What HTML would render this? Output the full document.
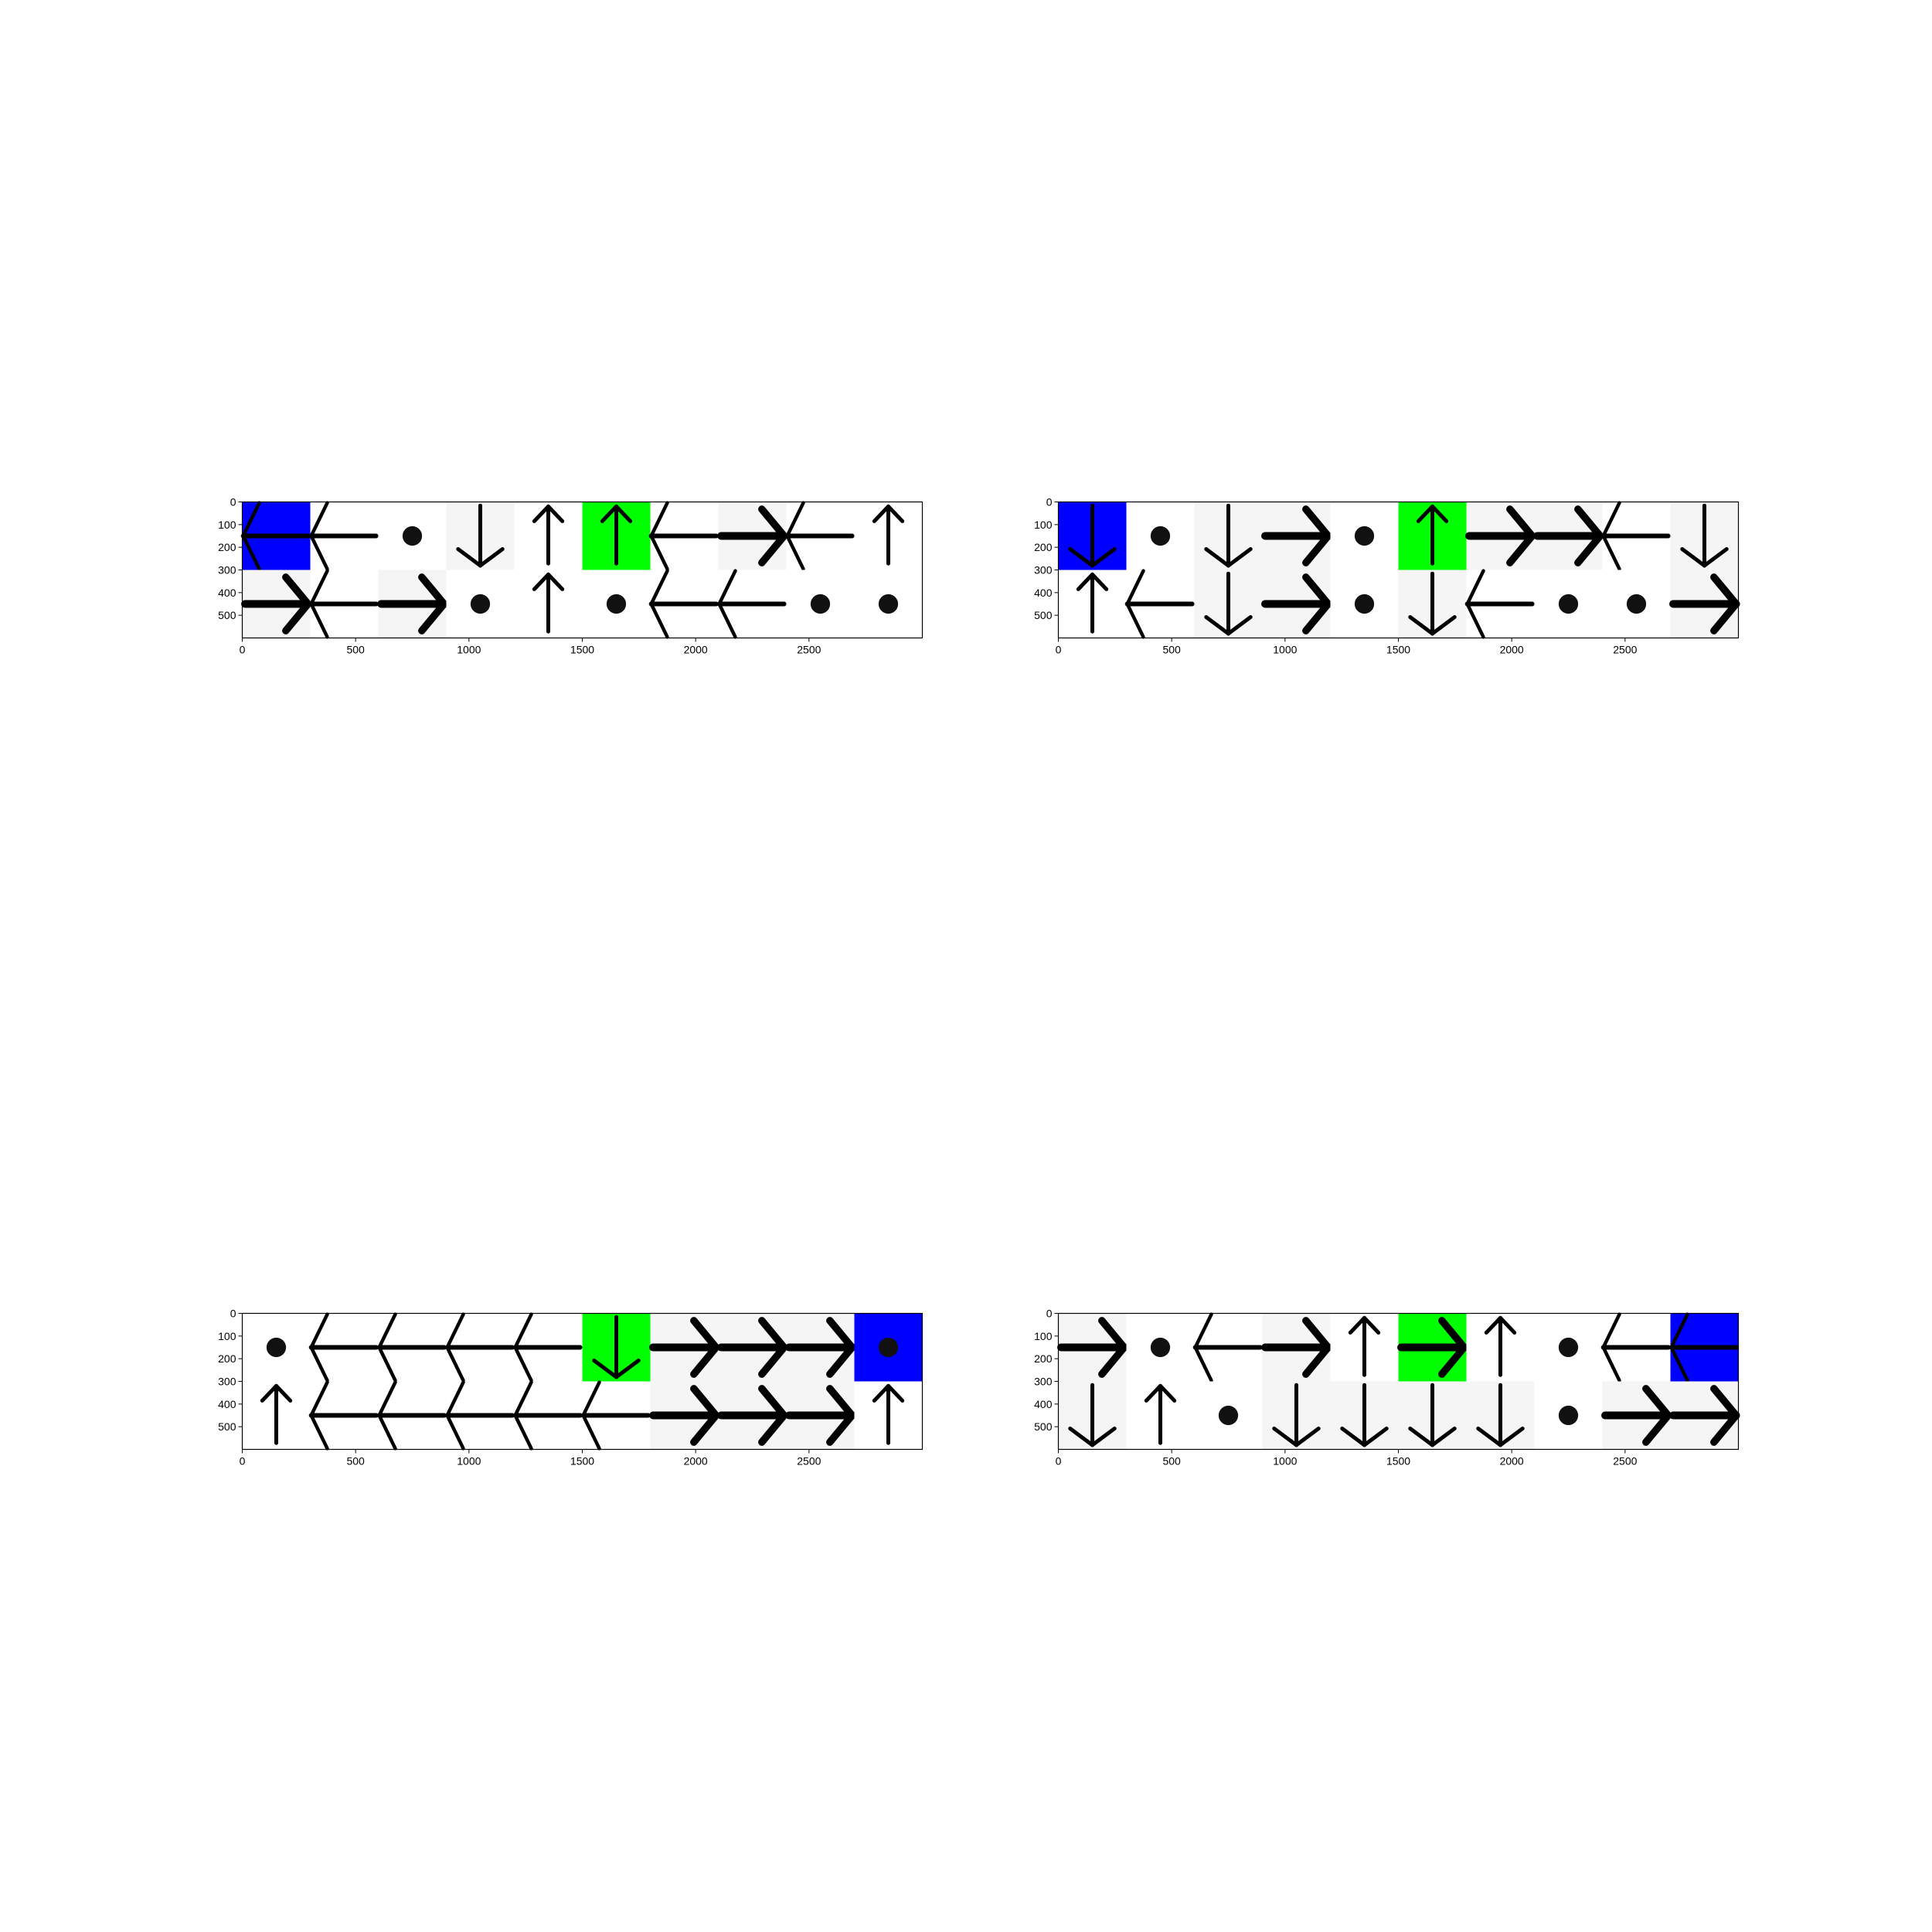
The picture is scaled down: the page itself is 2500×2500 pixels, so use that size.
<!DOCTYPE html>
<html><head><meta charset="utf-8"><style>
html,body{margin:0;padding:0;background:#fff;}
svg{display:block;}
text{font-family:"Liberation Sans","DejaVu Sans",sans-serif;font-size:14px;fill:#000;}
</style></head><body>
<svg id="chart" width="2500" height="2500" viewBox="0 0 2500 2500" xmlns="http://www.w3.org/2000/svg">
<rect x="0" y="0" width="2500" height="2500" fill="#fff"/>
</svg>
<script>
// Grid actions per panel: R,L,U,D arrows, O = dot
const panel1Row0 = ["L","L","O","D","U","U","L","R","L","U"];
const panel1Row1 = ["R","L","R","O","U","O","L","L","O","O"];
const panel2Row0 = ["D","O","D","R","O","U","R","R","L","D"];
const panel2Row1 = ["U","L","D","R","O","D","L","O","O","R"];
const panel3Row0 = ["O","L","L","L","L","D","R","R","R","O"];
const panel3Row1 = ["U","L","L","L","L","L","R","R","R","U"];
const panel4Row0 = ["R","O","L","R","U","R","U","O","L","L"];
const panel4Row1 = ["D","U","O","D","D","D","D","O","R","R"];
// start (blue) / goal (green) cells: [row, col]
const startCells = [[0,0],[0,0],[0,9],[0,9]];
const goalCells = [[0,5],[0,5],[0,5],[0,5]];
const xTicks = [0,500,1000,1500,2000,2500];
const yTicks = [0,100,200,300,400,500];

const grids = [[panel1Row0,panel1Row1],[panel2Row0,panel2Row1],[panel3Row0,panel3Row1],[panel4Row0,panel4Row1]];
const origins = [[313.5,649.5],[1369.5,649.5],[313.5,1699.5],[1369.5,1699.5]];
const S = 880/3000;
const NS = "http://www.w3.org/2000/svg";
const svg = document.getElementById('chart');

function mk(tag, attrs, parent){
  const e = document.createElementNS(NS, tag);
  for (const k in attrs) e.setAttribute(k, attrs[k]);
  parent.appendChild(e);
  return e;
}

grids.forEach((grid, p) => {
  const [ox, oy] = origins[p];
  const X = v => ox + v*S;
  const Y = v => oy + v*S;
  const g = mk('g', {}, svg);
  
  
  grid.forEach((row, r) => {
    row.forEach((a, c) => {
      const x0 = c*300, y0 = r*300, cx = x0+150, cy = y0+150;
      let fill = (a === 'R' || a === 'D') ? '#f5f5f5' : '#ffffff';
      if (startCells[p][0] === r && startCells[p][1] === c) fill = '#0000ff';
      if (goalCells[p][0] === r && goalCells[p][1] === c) fill = '#00ff00';
      const cell = mk('rect', {x: X(x0), y: Y(y0), width: 300*S, height: 300*S, fill: fill}, g);
      
      
      const ag = mk('g', {stroke: '#000', 'stroke-linecap': 'round', 'stroke-linejoin': 'round', fill: 'none'}, g);
      
      
      const line = (x1,y1,x2,y2,w) => mk('line', {x1: X(x1), y1: Y(y1), x2: X(x2), y2: Y(y2), 'stroke-width': w}, ag);
      if (a === 'O') {
        mk('circle', {cx: X(cx), cy: Y(cy), r: 43*S, fill: '#111', stroke: 'none'}, ag);
      } else if (a === 'L') {
        line(x0+4, cy, x0+290, cy, 6);
        line(x0+4, cy, x0+75, y0+4, 4.5);
        line(x0+4, cy, x0+75, y0+296, 4.5);
      } else if (a === 'R') {
        line(x0+12, cy, x0+290, cy, 10);
        line(x0+290, cy, x0+192, cy-118, 9.5);
        line(x0+290, cy, x0+192, cy+118, 9.5);
      } else if (a === 'U') {
        line(cx, y0+20, cx, y0+272, 5);
        line(cx, y0+20, cx-62, y0+85, 5);
        line(cx, y0+20, cx+62, y0+85, 5);
      } else if (a === 'D') {
        line(cx, y0+16, cx, y0+281, 5);
        line(cx, y0+281, cx-98, y0+208, 5);
        line(cx, y0+281, cx+98, y0+208, 5);
      }
    });
  });
  // axes frame
  const frame = mk('rect', {x: ox, y: oy, width: 3000*S, height: 600*S, fill: 'none', stroke: '#000', 'stroke-width': 1.2}, g);
  
  
  xTicks.forEach(t => {
    mk('line', {x1: X(t), y1: Y(600), x2: X(t), y2: Y(600)+5, stroke: '#000', 'stroke-width': 1}, g);
    const tx = mk('text', {x: X(t), y: Y(600)+20, 'text-anchor': 'middle'}, g);
    tx.textContent = t;
    
    
  });
  yTicks.forEach(t => {
    mk('line', {x1: ox-5, y1: Y(t), x2: ox, y2: Y(t), stroke: '#000', 'stroke-width': 1}, g);
    const ty = mk('text', {x: ox-8, y: Y(t)+5, 'text-anchor': 'end'}, g);
    ty.textContent = t;
    
    
  });
});
</script>
</body></html>
